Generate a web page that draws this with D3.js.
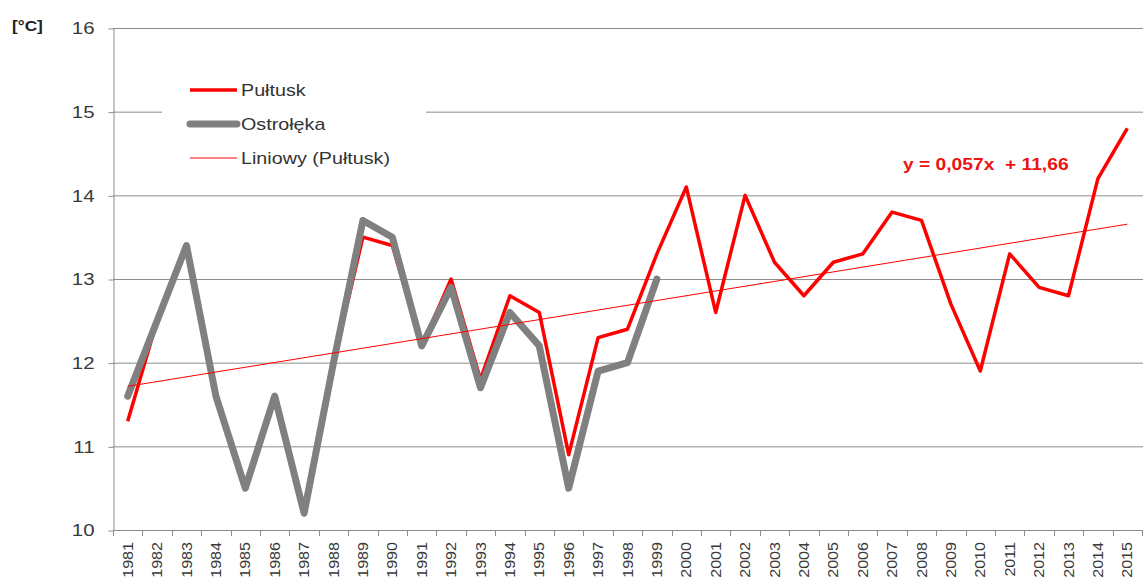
<!DOCTYPE html>
<html>
<head>
<meta charset="utf-8">
<script src="https://cdn.jsdelivr.net/npm/d3@7"></script>
<style>
    body { margin: 0; background: #fff; }
    text { font-family: "Liberation Sans", Arial, sans-serif; }
</style>
</head>
<body>
<div class="chart"></div>
<script>
const years = [1981, 1982, 1983, 1984, 1985, 1986, 1987, 1988, 1989, 1990,
    1991, 1992, 1993, 1994, 1995, 1996, 1997, 1998, 1999, 2000,
    2001, 2002, 2003, 2004, 2005, 2006, 2007, 2008, 2009, 2010,
    2011, 2012, 2013, 2014, 2015];
const pultusk = [11.3, 12.5, 13.4, 11.6, 10.5, 11.6, 10.2, 12.0, 13.5, 13.4,
    12.2, 13.0, 11.8, 12.8, 12.6, 10.9, 12.3, 12.4, 13.3, 14.1,
    12.6, 14.0, 13.2, 12.8, 13.2, 13.3, 13.8, 13.7, 12.7, 11.9,
    13.3, 12.9, 12.8, 14.2, 14.8];
const ostroleka = [11.6, 12.5, 13.4, 11.6, 10.5, 11.6, 10.2, 12.0, 13.7, 13.5,
    12.2, 12.9, 11.7, 12.6, 12.2, 10.5, 11.9, 12.0, 13.0];
const yTicks = [10, 11, 12, 13, 14, 15, 16];
const trendSlope = 0.057, trendIntercept = 11.66;
const legendNames = ["Pułtusk", "Ostrołęka", "Liniowy (Pułtusk)"];

let svgW = 1143,
    svgH = 580,
    plotL = 113,
    plotR = 1142,
    plotT = 28,
    plotB = 530,
    stretch = 1.16;

const svg = d3.select(".chart")
    .append("svg")
    .attr("width", svgW)
    .attr("height", svgH);

const x = d3.scaleBand().domain(years).range([plotL, plotR]).padding(0);
const y = d3.scaleLinear().domain([10, 16]).range([plotB, plotT]);
const cx = d => x(d) + x.bandwidth() / 2;

// widen text a bit, the picture is stretched sideways
function widen(sel, k) {
    sel.each(function () {
        const w = this.getComputedTextLength();
        this.setAttribute("textLength", w * k);
        this.setAttribute("lengthAdjust", "spacingAndGlyphs");
    });
}

// grid
svg.selectAll("line.grid")
    .data(yTicks.slice(1))
    .enter()
    .append("line")
    .attr("x1", plotL)
    .attr("x2", plotR + 1)
    .attr("y1", d => y(d) + 0.5)
    .attr("y2", d => y(d) + 0.5)
    .attr("stroke", "#8c8c8c")
    .attr("stroke-width", 1);

// y axis
const yAxis = svg.append("g")
    .attr("transform", `translate(${plotL + 0.5},0.5)`)
    .call(d3.axisLeft(y).tickValues(yTicks).tickFormat(d3.format("d"))
        .tickSize(5).tickSizeOuter(0).tickPadding(14));
yAxis.select(".domain").attr("stroke", "#8c8c8c");
yAxis.selectAll(".tick line").attr("stroke", "#8c8c8c");
yAxis.selectAll(".tick text")
    .attr("font-size", 17)
    .attr("fill", "#3a3a3a")
    .attr("font-family", "Liberation Sans, Arial, sans-serif")
    .call(widen, 1.2);

// x axis
svg.append("line")
    .attr("x1", plotL)
    .attr("x2", plotR + 1)
    .attr("y1", plotB + 0.5)
    .attr("y2", plotB + 0.5)
    .attr("stroke", "#8c8c8c");

svg.selectAll("line.xtick")
    .data(years.map(d => x(d)).concat([plotR]))
    .enter()
    .append("line")
    .attr("x1", d => Math.round(d) + 0.5)
    .attr("x2", d => Math.round(d) + 0.5)
    .attr("y1", plotB)
    .attr("y2", plotB + 6)
    .attr("stroke", "#8c8c8c");

svg.selectAll("text.xlab")
    .data(years)
    .enter()
    .append("text")
    .attr("transform", d => `translate(${cx(d) + 5},${plotB + 12}) rotate(-90)`)
    .attr("text-anchor", "end")
    .attr("font-size", 14)
    .attr("fill", "#3a3a3a")
    .text(d => d)
    .call(widen, 1.15);

// lines
const line = d3.line()
    .x((d, i) => cx(years[i]))
    .y(d => y(d));

svg.append("path")
    .attr("d", line(pultusk))
    .attr("fill", "none")
    .attr("stroke", "#ff0000")
    .attr("stroke-width", 3.5)
    .attr("stroke-linejoin", "round");

svg.append("path")
    .attr("d", line(ostroleka))
    .attr("fill", "none")
    .attr("stroke", "#808080")
    .attr("stroke-width", 7)
    .attr("stroke-linejoin", "round")
    .attr("stroke-linecap", "round");

svg.append("line")
    .attr("x1", cx(years[0]))
    .attr("x2", cx(years[years.length - 1]))
    .attr("y1", y(trendSlope * 1 + trendIntercept))
    .attr("y2", y(trendSlope * years.length + trendIntercept))
    .attr("stroke", "#ff0000")
    .attr("stroke-width", 1);

// legend
svg.append("rect")
    .attr("x", 162)
    .attr("y", 70)
    .attr("width", 264)
    .attr("height", 112)
    .attr("fill", "#fff");

const legendStyle = [
    {stroke: "#ff0000", w: 3.5},
    {stroke: "#808080", w: 7},
    {stroke: "#ff0000", w: 1}
];

legendNames.forEach((name, i) => {
    let ly = 90 + i * 34;
    svg.append("line")
        .attr("x1", 190)
        .attr("x2", 237)
        .attr("y1", ly)
        .attr("y2", ly)
        .attr("stroke", legendStyle[i].stroke)
        .attr("stroke-width", legendStyle[i].w)
        .attr("stroke-linecap", i === 1 ? "round" : "butt");
    svg.append("text")
        .attr("x", 241)
        .attr("y", ly + 6)
        .attr("font-size", 17)
        .attr("fill", "#333")
        .text(name)
        .call(widen, stretch);
});

// equation and unit
svg.append("text")
    .attr("x", 903)
    .attr("y", 170)
    .attr("font-size", 17)
    .attr("font-weight", "bold")
    .attr("fill", "#ee1111")
    .style("white-space", "pre")
    .text("y = 0,057x  + 11,66")
    .call(widen, 1.13);

svg.append("text")
    .attr("x", 12)
    .attr("y", 31)
    .attr("font-size", 15)
    .attr("font-weight", "bold")
    .attr("fill", "#222")
    .text("[°C]")
    .call(widen, 1.15);
</script>
</body>
</html>
